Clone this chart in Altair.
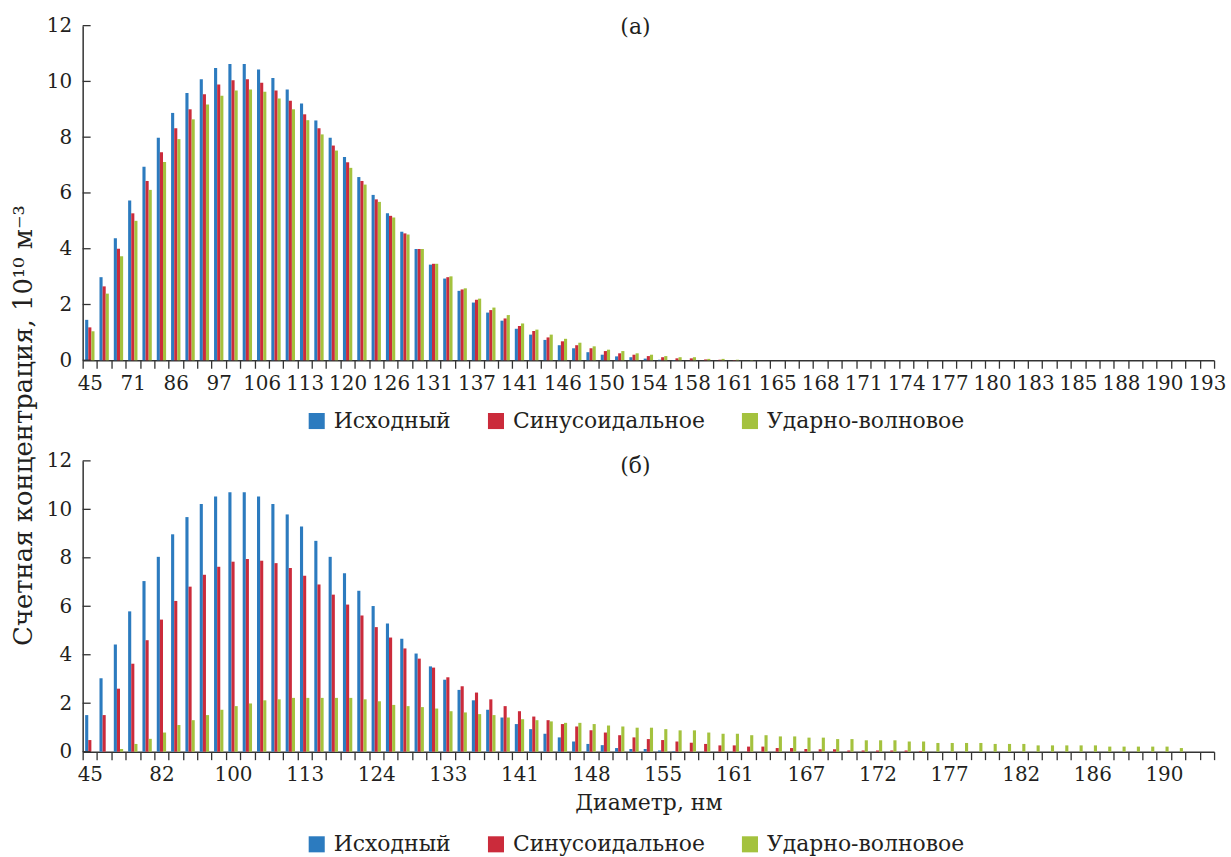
import json
import altair as alt
import pandas as pd

N = 79
SERIES = ["Исходный", "Синусоидальное", "Ударно-волновое"]
COLORS = ["#2C7BBF", "#CB2B3B", "#A4C23E"]
PANEL_LABELS = ["(а)", "(б)"]
Y_TICKS = [0, 2, 4, 6, 8, 10, 12]
Y_TITLE = "Счетная концентрация, 10¹⁰ м⁻³"
X_TITLE = "Диаметр, нм"

# tick labels shown under the category axis
A_LABELS = ["45", "71", "86", "97", "106", "113", "120", "126", "131", "137", "141",
            "146", "150", "154", "158", "161", "165", "168", "171", "174", "177",
            "180", "183", "185", "188", "190", "193"]
B_LABELS = ["45", "82", "100", "113", "124", "133", "141", "148", "155", "161",
            "167", "172", "177", "182", "186", "190"]

# panel (a)
A_BLUE = [1.45, 2.98, 4.38, 5.73, 6.94, 7.98, 8.87, 9.58, 10.08, 10.48,
          10.62, 10.62, 10.43, 10.12, 9.71, 9.21, 8.60, 7.98, 7.29, 6.57,
          5.93, 5.27, 4.61, 3.99, 3.43, 2.93, 2.49, 2.07, 1.71, 1.42,
          1.13, 0.92, 0.73, 0.54, 0.43, 0.29, 0.20, 0.14, 0.11, 0.06,
          0.02, 0.01, 0, 0, 0, 0, 0, 0, 0, 0,
          0, 0, 0, 0, 0, 0, 0, 0, 0, 0,
          0, 0, 0, 0, 0, 0, 0, 0, 0, 0,
          0, 0, 0, 0, 0, 0, 0, 0, 0]
A_RED = [1.18, 2.65, 4.00, 5.27, 6.43, 7.46, 8.32, 9.00, 9.54, 9.89,
         10.04, 10.08, 9.95, 9.67, 9.31, 8.82, 8.32, 7.70, 7.10, 6.43,
         5.77, 5.18, 4.55, 3.99, 3.46, 2.98, 2.54, 2.17, 1.80, 1.50,
         1.23, 1.05, 0.82, 0.68, 0.54, 0.43, 0.33, 0.25, 0.20, 0.15,
         0.11, 0.07, 0.07, 0.03, 0.02, 0.01, 0, 0, 0, 0,
         0, 0, 0, 0, 0, 0, 0, 0, 0, 0,
         0, 0, 0, 0, 0, 0, 0, 0, 0, 0,
         0, 0, 0, 0, 0, 0, 0, 0, 0]
A_GREEN = [1.04, 2.39, 3.73, 5.00, 6.11, 7.11, 7.93, 8.64, 9.17, 9.49,
           9.67, 9.71, 9.63, 9.39, 9.00, 8.61, 8.10, 7.52, 6.90, 6.30,
           5.68, 5.12, 4.51, 3.99, 3.46, 3.01, 2.58, 2.21, 1.89, 1.62,
           1.32, 1.10, 0.92, 0.77, 0.63, 0.50, 0.38, 0.33, 0.25, 0.20,
           0.15, 0.11, 0.11, 0.05, 0.05, 0.02, 0.01, 0, 0, 0,
           0, 0, 0, 0, 0, 0, 0, 0, 0, 0,
           0, 0, 0, 0, 0, 0, 0, 0, 0, 0,
           0, 0, 0, 0, 0, 0, 0, 0, 0]

# panel (б)
B_BLUE = [1.51, 3.03, 4.42, 5.79, 7.04, 8.04, 8.97, 9.68, 10.22, 10.53,
          10.71, 10.71, 10.53, 10.22, 9.79, 9.29, 8.70, 8.04, 7.36, 6.64,
          6.01, 5.29, 4.66, 4.05, 3.52, 2.97, 2.55, 2.12, 1.73, 1.41,
          1.14, 0.93, 0.74, 0.59, 0.42, 0.32, 0.27, 0.15, 0.11, 0.11,
          0.05, 0.02, 0, 0, 0, 0, 0, 0, 0, 0,
          0, 0, 0, 0, 0, 0, 0, 0, 0, 0,
          0, 0, 0, 0, 0, 0, 0, 0, 0, 0,
          0, 0, 0, 0, 0, 0, 0, 0, 0]
B_RED = [0.48, 1.51, 2.60, 3.63, 4.60, 5.45, 6.22, 6.81, 7.30, 7.63,
         7.84, 7.95, 7.88, 7.78, 7.58, 7.26, 6.90, 6.48, 6.07, 5.62,
         5.14, 4.71, 4.26, 3.84, 3.47, 3.07, 2.70, 2.44, 2.16, 1.88,
         1.67, 1.45, 1.30, 1.14, 1.04, 0.88, 0.79, 0.68, 0.59, 0.52,
         0.48, 0.42, 0.37, 0.32, 0.26, 0.26, 0.21, 0.21, 0.15, 0.15,
         0.11, 0.10, 0.10, 0.05, 0.05, 0.05, 0.05, 0.05, 0.03, 0,
         0, 0, 0, 0, 0, 0, 0, 0, 0, 0,
         0, 0, 0, 0, 0, 0, 0, 0, 0]
B_GREEN = [0, 0, 0.11, 0.32, 0.53, 0.79, 1.10, 1.30, 1.51, 1.73,
           1.88, 1.99, 2.12, 2.16, 2.22, 2.22, 2.22, 2.22, 2.22, 2.16,
           2.08, 1.93, 1.88, 1.84, 1.78, 1.67, 1.62, 1.55, 1.51, 1.41,
           1.34, 1.30, 1.25, 1.19, 1.19, 1.14, 1.08, 1.04, 0.99, 0.99,
           0.93, 0.88, 0.88, 0.79, 0.74, 0.74, 0.68, 0.68, 0.63, 0.63,
           0.58, 0.58, 0.52, 0.52, 0.47, 0.47, 0.47, 0.42, 0.42, 0.36,
           0.36, 0.36, 0.36, 0.32, 0.32, 0.32, 0.26, 0.26, 0.26, 0.26,
           0.26, 0.21, 0.21, 0.21, 0.21, 0.21, 0.15, 0, 0]

for arr in (A_BLUE, A_RED, A_GREEN, B_BLUE, B_RED, B_GREEN):
    assert len(arr) == N, len(arr)

FONT = "DejaVu Serif"
TXT = "#231F20"
AX = "#333333"
W = 1136
TICK_FS = 20
TEXT_FS = 22


def panel(blue, red, green, labels, every, height, plabel, plabel_y,
          legend_y, x_title=None, y_title=None):
    rows = []
    for s, vals in zip(SERIES, (blue, red, green)):
        for i, v in enumerate(vals):
            rows.append({"i": i, "series": s, "value": v})
    df = pd.DataFrame(rows)
    expr = (f"datum.value % {every} === 0 ? "
            f"{json.dumps(labels)}[datum.value / {every}] : ''")

    xaxis_kw = dict(labelExpr=expr, labelAngle=0, labelOverlap=False,
                    tickBand="extent", tickSize=8, tickColor=AX, tickWidth=1.3,
                    domainColor=AX, domainWidth=1.5, labelFont=FONT,
                    labelFontSize=TICK_FS, labelColor=TXT, labelPadding=5, grid=False)
    if x_title:
        xaxis_kw.update(title=x_title, titleFont=FONT, titleFontSize=TEXT_FS,
                        titleFontWeight="normal", titleColor=TXT, titlePadding=8)
    else:
        xaxis_kw.update(title=None)

    yaxis_kw = dict(values=Y_TICKS, ticks=False, domainColor=AX, domainWidth=1.5,
                    labelFont=FONT, labelFontSize=TICK_FS, labelColor=TXT,
                    labelPadding=11, grid=False)
    if y_title:
        yaxis_kw.update(title=y_title, titleFont=FONT, titleFontSize=26,
                        titleFontWeight="normal", titleColor=TXT, titlePadding=10,
                        titleY=-36)
    else:
        yaxis_kw.update(title=None)

    bars = alt.Chart(df).mark_bar().encode(
        x=alt.X("i:O", scale=alt.Scale(paddingInner=0, paddingOuter=0),
                axis=alt.Axis(**xaxis_kw)),
        xOffset=alt.XOffset("series:N", sort=SERIES,
                            scale=alt.Scale(paddingInner=0, paddingOuter=0.8)),
        y=alt.Y("value:Q", scale=alt.Scale(domain=[0, 12], nice=False),
                axis=alt.Axis(**yaxis_kw)),
        color=alt.Color("series:N", sort=SERIES,
                        scale=alt.Scale(domain=SERIES, range=COLORS),
                        legend=alt.Legend(orient="none", legendX=224, legendY=legend_y,
                                          direction="horizontal", title=None,
                                          symbolType="square", symbolSize=260,
                                          symbolStrokeWidth=0, labelFont=FONT,
                                          labelFontSize=TEXT_FS, labelColor=TXT,
                                          labelLimit=500,
                                          columnPadding=34, labelOffset=6)),
    )
    ticks = alt.Chart(pd.DataFrame({"value": Y_TICKS})).mark_rule(
        color=AX, strokeWidth=1.3).encode(
        y=alt.Y("value:Q"), x=alt.value(0), x2=alt.value(8))
    lab = alt.Chart(pd.DataFrame({"t": [plabel]})).mark_text(
        font=FONT, fontSize=TEXT_FS, color=TXT, baseline="middle", align="center").encode(
        text="t:N", x=alt.value(555), y=alt.value(plabel_y))
    return alt.layer(bars, ticks, lab).properties(width=W, height=height)


top = panel(A_BLUE, A_RED, A_GREEN, A_LABELS, 3, 336, PANEL_LABELS[0], 1, 386)
bot = panel(B_BLUE, B_RED, B_GREEN, B_LABELS, 5, 292, PANEL_LABELS[1], 5, 374,
            x_title=X_TITLE, y_title=Y_TITLE)

chart = alt.vconcat(top, bot, spacing=101, bounds="flush").resolve_scale(
    x="independent", y="independent", color="independent", xOffset="independent"
).resolve_legend(color="independent").resolve_axis(x="independent", y="independent").properties(
    padding={"left": 10, "top": 14, "right": 5, "bottom": 0}
).configure_view(strokeWidth=0)

chart.save("out.html", embed_options={"renderer": "svg", "actions": False})
